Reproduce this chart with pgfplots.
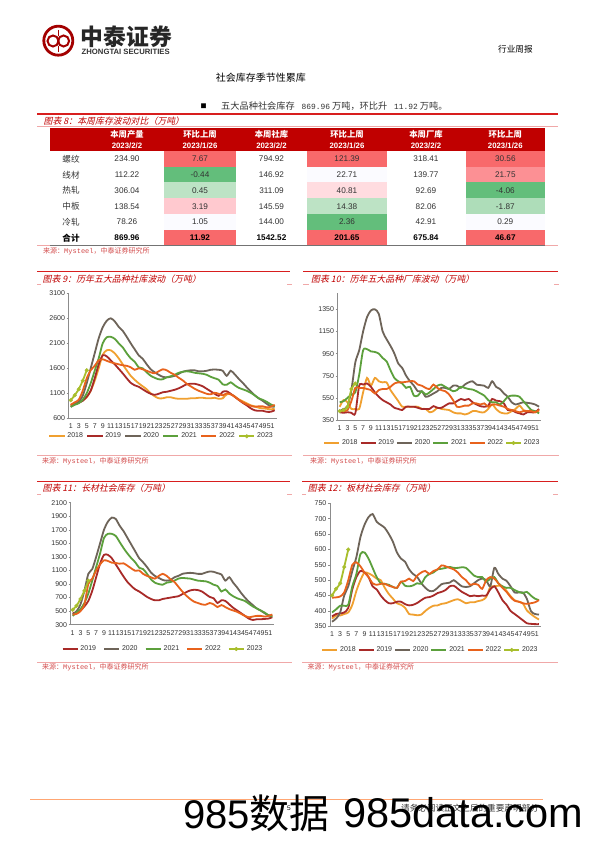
\documentclass[border=0pt]{standalone}
\usepackage{pgfplots}
\pgfplotsset{compat=1.18}
\usepackage{fontspec}
\setmainfont{Liberation Sans}
\newfontfamily\cjk{Noto Sans CJK SC}
\newfontfamily\cjkit[FakeSlant=0.22]{Noto Sans CJK SC}
\newfontfamily\monof{Liberation Mono}
\definecolor{y18}{HTML}{F0A030}
\definecolor{y19}{HTML}{A82A28}
\definecolor{y20}{HTML}{6E6459}
\definecolor{y21}{HTML}{5CA03C}
\definecolor{y22}{HTML}{E8621C}
\definecolor{y23}{HTML}{A8BE2C}
\definecolor{hd}{HTML}{C00000}
\definecolor{rulered}{HTML}{D81E1E}
\definecolor{pk}{HTML}{F0A8A8}
\definecolor{ca}{HTML}{F8696B}
\definecolor{cb}{HTML}{FC9094}
\definecolor{cc}{HTML}{FFC9CF}
\definecolor{cd}{HTML}{FFDCE0}
\definecolor{ce}{HTML}{FBFBFF}
\definecolor{cf}{HTML}{BDE3C5}
\definecolor{cg}{HTML}{AEDDB9}
\definecolor{ch}{HTML}{63BE7B}
\definecolor{ink}{HTML}{333333}
\newcommand{\fs}[1]{\fontsize{#1}{#1}\selectfont}
\newcommand{\PT}[2]{(#1,{842-#2})}
\newcommand{\RL}[3]{\fill[fill=rulered,draw=none] (#1,{842-#3-0.8}) rectangle (#2,{842-#3+0.8});}
\pgfplotsset{
  rep/.style={
    scale only axis, clip=false,
    axis x line=bottom, axis y line=left,
    axis line style={draw=black!45,-,line width=0.5pt},
    xmin=0.5, xmax=52.5,
    xtick={1,3,...,51},
    x tick style={draw=none},
    y tick style={draw=black!45,line width=0.4pt},
    tick align=outside, major tick length=2pt,
    xticklabel style={font=\fs{7},text=ink,inner sep=1pt,yshift=-2.5pt},
    yticklabel style={font=\fs{7},text=ink,inner sep=1.5pt},
    /pgf/number format/assume math mode=true,
    /pgf/number format/1000 sep={},
    xtick pos=bottom, ytick pos=left,
    legend columns=-1,
    legend cell align=left,
    legend style={draw=none,fill=none,font=\fs{7},text=ink,inner sep=0pt},
    legend image code/.code={\draw[mark repeat=2,mark phase=2,##1] plot coordinates {(0pt,0pt)(7.5pt,0pt)(15pt,0pt)};},
  },
  base/.style={line width=1.8pt,smooth,tension=0.45,no markers},
  s18/.style={base,color=y18},s19/.style={base,color=y19},s20/.style={base,color=y20},
  s21/.style={base,color=y21},s22/.style={base,color=y22},
  s23/.style={line width=1.8pt,smooth,tension=0.45,color=y23,mark=*,mark size=1.9pt,mark options={fill=y23,draw=y23,line width=0.3pt}},
  cs/.style={legend style={/tikz/every even column/.append style={column sep=#1}}},
}
\begin{document}
\begin{tikzpicture}[x=1pt,y=1pt]
\useasboundingbox (0,0) rectangle (596,842);
\fill[white] (0,0) rectangle (596,842);

% red rules
\RL{37}{558}{114}
\RL{37}{290}{271.7}
\RL{303}{558}{271.7}
\RL{37}{290}{481.7}
\RL{302}{558}{481.7}

% logo
\draw[color=hd!85!black,line width=2.8pt] \PT{58.3}{40.7} circle (14.5);
\draw[color=hd!85!black,line width=2pt] \PT{53}{41} circle (5.5);
\draw[color=hd!85!black,line width=2pt] \PT{63.6}{41} circle (5.5);
\draw[color=hd!85!black,line width=1.6pt] \PT{58.3}{30} -- \PT{58.3}{36};
\draw[color=hd!85!black,line width=1.6pt] \PT{58.3}{46} -- \PT{58.3}{52};
\node[anchor=west,inner sep=0] at \PT{80.5}{36.5} {\cjk\bfseries\fs{22.8}\color{black!85}中泰证券};
\node[anchor=west,inner sep=0] at \PT{81.5}{51.7} {\bfseries\fs{7.7}\color{black!80}ZHONGTAI SECURITIES};
\node[anchor=west,inner sep=0] at \PT{498}{49} {\cjk\fs{8.6}行业周报};
\node[anchor=west,inner sep=0] at \PT{215.7}{78} {\cjk\fs{10}社会库存季节性累库};
\node[anchor=center,inner sep=0] at \PT{203.5}{106} {\cjk\fs{6}■};
\node[anchor=west,inner sep=0] at \PT{221}{106} {\cjk\fs{9.2}\color{black!80}五大品种社会库存 {\monof\fs{7.9} 869.96} 万吨，环比升 {\monof\fs{7.9} 11.92} 万吨。};

% table heading
\node[anchor=west,inner sep=0,text=hd] at \PT{43.5}{120.7} {\cjkit\fs{8.9}图表 8：本周库存波动对比（万吨）};
\draw[color=pk,line width=0.6pt] \PT{37}{126.7} -- \PT{558}{126.7};

% table cells
\fill[hd] \PT{50}{128} rectangle \PT{545}{151};
\foreach \cx/\a/\b in {127/本周产量/2023\slash 2\slash 2,200/环比上周/2023\slash 1\slash 26,271.5/本周社库/2023\slash 2\slash 2,347/环比上周/2023\slash 1\slash 26,426/本周厂库/2023\slash 2\slash 2,505.3/环比上周/2023\slash 1\slash 26}{
  \node[text=white,inner sep=0] at \PT{\cx}{134} {\cjk\bfseries\fs{8.3}\a};
  \node[text=white,inner sep=0] at \PT{\cx}{145.5} {\bfseries\fs{7.8}\b};
}
\foreach \row/\nm/\va/\vb/\cb/\vc/\vd/\cd/\ve/\vf/\cf in {
 0/螺纹/234.90/7.67/ca/794.92/121.39/ca/318.41/30.56/ca,
 1/线材/112.22/-0.44/ch/146.92/22.71/ce/139.77/21.75/cb,
 2/热轧/306.04/0.45/cf/311.09/40.81/cd/92.69/-4.06/ch,
 3/中板/138.54/3.19/cc/145.59/14.38/cf/82.06/-1.87/cg,
 4/冷轧/78.26/1.05/ce/144.00/2.36/ch/42.91/0.29/ce}{
  \pgfmathsetmacro\yt{151+15.75*\row}
  \pgfmathsetmacro\yb{\yt+15.75}
  \pgfmathsetmacro\ym{\yt+8}
  \fill[\cb] \PT{164.3}{\yt} rectangle \PT{235.7}{\yb};
  \fill[\cd] \PT{307.3}{\yt} rectangle \PT{386.7}{\yb};
  \fill[\cf] \PT{465.7}{\yt} rectangle \PT{545}{\yb};
  \node[inner sep=0,text=ink] at \PT{71}{\ym} {\cjk\fs{8.6}\nm};
  \node[inner sep=0,text=ink] at \PT{127}{\ym} {\fs{8.2}\va};
  \node[inner sep=0,text=ink] at \PT{200}{\ym} {\fs{8.2}\vb};
  \node[inner sep=0,text=ink] at \PT{271.5}{\ym} {\fs{8.2}\vc};
  \node[inner sep=0,text=ink] at \PT{347}{\ym} {\fs{8.2}\vd};
  \node[inner sep=0,text=ink] at \PT{426}{\ym} {\fs{8.2}\ve};
  \node[inner sep=0,text=ink] at \PT{505.3}{\ym} {\fs{8.2}\vf};
}
\fill[ca] \PT{164.3}{229.7} rectangle \PT{235.7}{245.5};
\fill[ca] \PT{307.3}{229.7} rectangle \PT{386.7}{245.5};
\fill[ca] \PT{465.7}{229.7} rectangle \PT{545}{245.5};
\node[inner sep=0] at \PT{71}{238} {\cjk\bfseries\fs{8.6}合计};
\foreach \cx/\v in {127/869.96,200/11.92,271.5/1542.52,347/201.65,426/675.84,505.3/46.67}{
  \node[inner sep=0] at \PT{\cx}{238} {\bfseries\fs{8.2}\v};
}
\draw[color=pk,line width=0.6pt] \PT{37}{245.7} -- \PT{558}{245.7};
\draw[color=black!55,line width=0.6pt] \PT{50}{245.7} -- \PT{545}{245.7};
\node[anchor=west,inner sep=0,text=hd!70] at \PT{43}{251.5} {\cjk\fs{7}来源：{\monof\fs{7}Mysteel}，中泰证券研究所};

% chart 9 frame
\draw[color=pk,line width=0.6pt] \PT{37}{284} -- \PT{41}{284} \PT{287}{284} -- \PT{292}{284};
\node[anchor=west,inner sep=0,text=hd] at \PT{42.5}{278.7} {\cjkit\fs{8.9}图表 9：历年五大品种社库波动（万吨）};
\draw[color=pk,line width=0.6pt] \PT{37}{455.7} -- \PT{292}{455.7};
\node[anchor=west,inner sep=0,text=hd!70] at \PT{42}{461} {\cjk\fs{7}来源：{\monof\fs{7}Mysteel}，中泰证券研究所};
% chart 10 frame
\draw[color=pk,line width=0.6pt] \PT{303}{284} -- \PT{309}{284} \PT{554}{284} -- \PT{559}{284};
\node[anchor=west,inner sep=0,text=hd] at \PT{311}{278.7} {\cjkit\fs{8.9}图表 10：历年五大品种厂库波动（万吨）};
\draw[color=pk,line width=0.6pt] \PT{303}{455.7} -- \PT{559}{455.7};
\node[anchor=west,inner sep=0,text=hd!70] at \PT{310}{461} {\cjk\fs{7}来源：{\monof\fs{7}Mysteel}，中泰证券研究所};
% chart 11 frame
\draw[color=pk,line width=0.6pt] \PT{37}{494} -- \PT{41}{494} \PT{287}{494} -- \PT{292}{494};
\node[anchor=west,inner sep=0,text=hd] at \PT{42.5}{488.5} {\cjkit\fs{8.9}图表 11：长材社会库存（万吨）};
\draw[color=pk,line width=0.6pt] \PT{37}{662} -- \PT{292}{662};
\node[anchor=west,inner sep=0,text=hd!70] at \PT{42}{667.5} {\cjk\fs{7}来源：{\monof\fs{7}Mysteel}，中泰证券研究所};
% chart 12 frame
\draw[color=pk,line width=0.6pt] \PT{302}{494} -- \PT{306}{494} \PT{553}{494} -- \PT{558}{494};
\node[anchor=west,inner sep=0,text=hd] at \PT{307.7}{488.5} {\cjkit\fs{8.9}图表 12：板材社会库存（万吨）};
\draw[color=pk,line width=0.6pt] \PT{302}{662} -- \PT{558}{662};
\node[anchor=west,inner sep=0,text=hd!70] at \PT{307.5}{667.5} {\cjk\fs{7}来源：{\monof\fs{7}Mysteel}，中泰证券研究所};

% ---------- chart 9
\begin{axis}[rep,cs=1.6pt,at={(68.7pt,423.7pt)},anchor=south west,width=208pt,height=125pt,
  ymin=600,ymax=3100,ytick={600,1100,1600,2100,2600,3100},
  legend style={at={(0.5,0)},anchor=center,yshift=-18pt,xshift=-11pt}]
\addplot[s18] coordinates {(1,850)(2,880)(3,920)(4,960)(5,1020)(6,1150)(7,1350)(8,1600)(9,1870)(10,1960)(11,1960)(12,1900)(13,1800)(14,1680)(15,1560)(16,1450)(17,1370)(18,1300)(19,1240)(20,1180)(21,1100)(22,1040)(23,1000)(24,1000)(25,1020)(26,1020)(27,1000)(28,990)(29,990)(30,990)(31,1000)(32,1000)(33,1010)(34,1010)(35,1000)(36,1000)(37,1010)(38,990)(39,1000)(40,1080)(41,1080)(42,1040)(43,980)(44,940)(45,900)(46,860)(47,840)(48,810)(49,800)(50,790)(51,780)(52,790)};
\addplot[s19] coordinates {(1,870)(2,880)(3,910)(4,950)(5,1030)(6,1150)(7,1400)(8,1680)(9,1860)(10,1840)(11,1760)(12,1680)(13,1590)(14,1500)(15,1400)(16,1310)(17,1260)(18,1230)(19,1180)(20,1130)(21,1090)(22,1070)(23,1090)(24,1120)(25,1130)(26,1150)(27,1170)(28,1200)(29,1240)(30,1280)(31,1290)(32,1290)(33,1270)(34,1240)(35,1190)(36,1140)(37,1090)(38,1050)(39,1130)(40,1140)(41,1090)(42,1030)(43,970)(44,910)(45,860)(46,800)(47,760)(48,750)(49,750)(50,730)(51,730)(52,760)};
\addplot[s20] coordinates {(1,830)(2,880)(3,930)(4,1050)(5,1300)(6,1600)(7,1900)(8,2200)(9,2420)(10,2550)(11,2600)(12,2540)(13,2430)(14,2350)(15,2230)(16,2100)(17,1980)(18,1860)(19,1790)(20,1680)(21,1580)(22,1520)(23,1470)(24,1430)(25,1420)(26,1430)(27,1450)(28,1490)(29,1530)(30,1550)(31,1560)(32,1560)(33,1540)(34,1540)(35,1550)(36,1570)(37,1575)(38,1570)(39,1550)(40,1450)(41,1550)(42,1480)(43,1390)(44,1310)(45,1220)(46,1140)(47,1060)(48,1000)(49,950)(50,890)(51,840)(52,830)};
\addplot[s21] coordinates {(1,830)(2,870)(3,900)(4,970)(5,1100)(6,1300)(7,1550)(8,1800)(9,2100)(10,2220)(11,2230)(12,2190)(13,2100)(14,2020)(15,1900)(16,1800)(17,1730)(18,1620)(19,1600)(20,1520)(21,1450)(22,1410)(23,1380)(24,1380)(25,1420)(26,1440)(27,1470)(28,1510)(29,1530)(30,1540)(31,1530)(32,1510)(33,1500)(34,1490)(35,1470)(36,1430)(37,1400)(38,1370)(39,1280)(40,1270)(41,1320)(42,1260)(43,1210)(44,1180)(45,1150)(46,1110)(47,1060)(48,1000)(49,970)(50,930)(51,880)(52,840)};
\addplot[s22] coordinates {(1,870)(2,920)(3,970)(4,1150)(5,1400)(6,1560)(7,1650)(8,1760)(9,1780)(10,1750)(11,1720)(12,1700)(13,1680)(14,1660)(15,1650)(16,1620)(17,1570)(18,1600)(19,1580)(20,1550)(21,1520)(22,1500)(23,1540)(24,1580)(25,1560)(26,1510)(27,1470)(28,1410)(29,1360)(30,1290)(31,1240)(32,1190)(33,1150)(34,1120)(35,1090)(36,1080)(37,1110)(38,1090)(39,1060)(40,1100)(41,1080)(42,1030)(43,970)(44,920)(45,880)(46,850)(47,830)(48,840)(49,840)(50,820)(51,830)(52,870)};
\addplot[s23] coordinates {(1,960)(2,1060)(3,1180)(4,1350)(5,1560)};
\legend{2018,2019,2020,2021,2022,2023}
\end{axis}

% ---------- chart 10
\begin{axis}[rep,cs=0pt,at={(337.7pt,422pt)},anchor=south west,width=203.3pt,height=126.7pt,
  ymin=350,ymax=1495,ytick={350,550,750,950,1150,1350},
  legend style={at={(0.5,0)},anchor=center,yshift=-23pt,xshift=-7pt}]
\addplot[s18] coordinates {(1,470)(2,530)(3,510)(4,450)(5,450)(6,450)(7,600)(8,730)(9,660)(10,730)(11,700)(12,690)(13,690)(14,620)(15,570)(16,520)(17,470)(18,470)(19,470)(20,470)(21,470)(22,450)(23,450)(24,420)(25,430)(26,460)(27,450)(28,445)(29,440)(30,420)(31,410)(32,410)(33,400)(34,410)(35,430)(36,430)(37,420)(38,420)(39,450)(40,490)(41,450)(42,420)(43,410)(44,410)(45,430)(46,450)(47,480)(48,440)(49,430)(50,420)(51,420)(52,430)};
\addplot[s19] coordinates {(1,420)(2,415)(3,420)(4,415)(5,410)(6,660)(7,670)(8,680)(9,650)(10,600)(11,560)(12,530)(13,510)(14,490)(15,460)(16,450)(17,440)(18,470)(19,470)(20,470)(21,460)(22,450)(23,450)(24,450)(25,475)(26,460)(27,460)(28,480)(29,500)(30,500)(31,520)(32,540)(33,530)(34,540)(35,510)(36,490)(37,475)(38,470)(39,480)(40,540)(41,525)(42,520)(43,500)(44,440)(45,440)(46,420)(47,410)(48,400)(49,420)(50,420)(51,420)(52,450)};
\addplot[s20] coordinates {(1,430)(2,450)(3,470)(4,620)(5,870)(6,980)(7,1150)(8,1280)(9,1340)(10,1350)(11,1310)(12,1150)(13,1080)(14,1020)(15,950)(16,860)(17,820)(18,750)(19,700)(20,660)(21,610)(22,610)(23,560)(24,570)(25,590)(26,610)(27,640)(28,640)(29,630)(30,660)(31,660)(32,640)(33,670)(34,690)(35,700)(36,670)(37,665)(38,660)(39,640)(40,700)(41,650)(42,630)(43,590)(44,560)(45,510)(46,490)(47,500)(48,510)(49,505)(50,500)(51,490)(52,470)};
\addplot[s21] coordinates {(1,510)(2,520)(3,550)(4,580)(5,600)(6,760)(7,980)(8,990)(9,970)(10,965)(11,950)(12,910)(13,880)(14,800)(15,730)(16,700)(17,680)(18,640)(19,650)(20,570)(21,570)(22,610)(23,580)(24,600)(25,630)(26,660)(27,670)(28,650)(29,630)(30,610)(31,620)(32,650)(33,640)(34,630)(35,625)(36,610)(37,590)(38,570)(39,530)(40,510)(41,510)(42,490)(43,520)(44,560)(45,570)(46,570)(47,560)(48,520)(49,480)(50,440)(51,430)(52,410)};
\addplot[s22] coordinates {(1,430)(2,430)(3,440)(4,520)(5,640)(6,640)(7,640)(8,630)(9,620)(10,590)(11,620)(12,630)(13,630)(14,650)(15,680)(16,690)(17,690)(18,695)(19,700)(20,700)(21,670)(22,660)(23,640)(24,630)(25,670)(26,640)(27,620)(28,610)(29,580)(30,530)(31,470)(32,470)(33,480)(34,480)(35,500)(36,500)(37,490)(38,500)(39,470)(40,490)(41,490)(42,480)(43,470)(44,450)(45,440)(46,430)(47,420)(48,430)(49,430)(50,430)(51,420)(52,440)};
\addplot[s23] coordinates {(1,430)(2,440)(3,470)(4,630)(5,680)};
\legend{2018,2019,2020,2021,2022,2023}
\end{axis}

% ---------- chart 11
\begin{axis}[rep,cs=5.2pt,at={(70.7pt,217.3pt)},anchor=south west,width=203.6pt,height=122pt,
  ymin=300,ymax=2100,ytick={300,500,...,2100},
  legend style={at={(0.5,0)},anchor=center,yshift=-24.3pt,xshift=-9.5pt}]
\addplot[s19] coordinates {(1,470)(2,480)(3,510)(4,570)(5,650)(6,800)(7,1000)(8,1200)(9,1330)(10,1330)(11,1280)(12,1190)(13,1100)(14,1010)(15,930)(16,870)(17,820)(18,790)(19,750)(20,710)(21,680)(22,660)(23,660)(24,680)(25,690)(26,700)(27,710)(28,720)(29,750)(30,780)(31,805)(32,815)(33,810)(34,790)(35,750)(36,710)(37,690)(38,620)(39,660)(40,650)(41,600)(42,550)(43,510)(44,470)(45,430)(46,390)(47,370)(48,380)(49,380)(50,385)(51,390)(52,410)};
\addplot[s20] coordinates {(1,450)(2,500)(3,600)(4,800)(5,1050)(6,1120)(7,1300)(8,1500)(9,1700)(10,1820)(11,1880)(12,1860)(13,1760)(14,1680)(15,1580)(16,1480)(17,1380)(18,1280)(19,1220)(20,1150)(21,1070)(22,1020)(23,990)(24,960)(25,950)(26,960)(27,1000)(28,1020)(29,1050)(30,1060)(31,1065)(32,1060)(33,1050)(34,1050)(35,1070)(36,1085)(37,1080)(38,1060)(39,1040)(40,950)(41,1000)(42,920)(43,850)(44,770)(45,700)(46,640)(47,590)(48,540)(49,510)(50,470)(51,440)(52,430)};
\addplot[s21] coordinates {(1,430)(2,480)(3,530)(4,620)(5,760)(6,950)(7,1150)(8,1350)(9,1580)(10,1640)(11,1640)(12,1610)(13,1520)(14,1430)(15,1350)(16,1280)(17,1220)(18,1140)(19,1120)(20,1050)(21,970)(22,920)(23,900)(24,890)(25,920)(26,930)(27,950)(28,980)(29,990)(30,985)(31,980)(32,965)(33,950)(34,945)(35,940)(36,920)(37,890)(38,870)(39,790)(40,820)(41,760)(42,720)(43,690)(44,670)(45,650)(46,610)(47,570)(48,540)(49,510)(50,480)(51,440)(52,420)};
\addplot[s22] coordinates {(1,450)(2,460)(3,500)(4,600)(5,900)(6,980)(7,1100)(8,1190)(9,1250)(10,1240)(11,1215)(12,1210)(13,1200)(14,1205)(15,1170)(16,1130)(17,1095)(18,1100)(19,1050)(20,1020)(21,1000)(22,980)(23,1020)(24,1050)(25,1020)(26,970)(27,930)(28,860)(29,790)(30,730)(31,680)(32,640)(33,620)(34,600)(35,595)(36,620)(37,600)(38,560)(39,590)(40,560)(41,530)(42,510)(43,490)(44,460)(45,430)(46,410)(47,420)(48,430)(49,430)(50,420)(51,430)(52,450)};
\addplot[s23] coordinates {(1,520)(2,580)(3,680)(4,800)(5,950)};
\legend{2019,2020,2021,2022,2023}
\end{axis}

% ---------- chart 12
\begin{axis}[rep,cs=0pt,at={(330pt,215.7pt)},anchor=south west,width=211pt,height=123pt,
  ymin=350,ymax=750,ytick={350,400,...,750},
  legend style={at={(0.5,0)},anchor=center,yshift=-23.7pt,xshift=-5pt}]
\addplot[s18] coordinates {(1,375)(2,385)(3,385)(4,390)(5,395)(6,420)(7,465)(8,500)(9,525)(10,522)(11,515)(12,505)(13,500)(14,475)(15,455)(16,440)(17,425)(18,420)(19,410)(20,390)(21,388)(22,386)(23,388)(24,400)(25,410)(26,417)(27,418)(28,423)(29,425)(30,430)(31,435)(32,438)(33,432)(34,425)(35,428)(36,428)(37,432)(38,435)(39,445)(40,478)(41,480)(42,482)(43,480)(44,465)(45,448)(46,435)(47,430)(48,425)(49,402)(50,390)(51,380)(52,372)};
\addplot[s19] coordinates {(1,382)(2,390)(3,392)(4,395)(5,410)(6,470)(7,510)(8,530)(9,525)(10,510)(11,480)(12,470)(13,450)(14,435)(15,425)(16,425)(17,430)(18,430)(19,422)(20,418)(21,420)(22,426)(23,435)(24,443)(25,445)(26,450)(27,458)(28,462)(29,468)(30,480)(31,482)(32,472)(33,462)(34,455)(35,448)(36,450)(37,448)(38,450)(39,450)(40,470)(41,480)(42,460)(43,435)(44,420)(45,400)(46,390)(47,380)(48,370)(49,360)(50,358)(51,357)(52,357)};
\addplot[s20] coordinates {(1,365)(2,375)(3,395)(4,450)(5,480)(6,530)(7,575)(8,640)(9,680)(10,705)(11,715)(12,690)(13,680)(14,670)(15,650)(16,625)(17,590)(18,570)(19,560)(20,535)(21,520)(22,510)(23,490)(24,475)(25,465)(26,465)(27,475)(28,487)(29,490)(30,492)(31,500)(32,490)(33,480)(34,478)(35,480)(36,490)(37,500)(38,505)(39,500)(40,480)(41,540)(42,520)(43,505)(44,498)(45,480)(46,460)(47,460)(48,460)(49,440)(50,400)(51,390)(52,388)};
\addplot[s21] coordinates {(1,395)(2,405)(3,417)(4,417)(5,420)(6,480)(7,520)(8,585)(9,590)(10,570)(11,540)(12,510)(13,490)(14,488)(15,485)(16,478)(17,475)(18,495)(19,482)(20,480)(21,483)(22,490)(23,488)(24,510)(25,520)(26,525)(27,535)(28,537)(29,540)(30,543)(31,540)(32,540)(33,542)(34,540)(35,528)(36,515)(37,510)(38,510)(39,495)(40,505)(41,510)(42,490)(43,480)(44,475)(45,475)(46,468)(47,462)(48,458)(49,462)(50,450)(51,440)(52,435)};
\addplot[s22] coordinates {(1,443)(2,444)(3,447)(4,460)(5,500)(6,550)(7,558)(8,545)(9,525)(10,510)(11,490)(12,485)(13,488)(14,488)(15,482)(16,478)(17,475)(18,495)(19,497)(20,505)(21,497)(22,515)(23,525)(24,530)(25,520)(26,530)(27,535)(28,548)(29,545)(30,540)(31,535)(32,525)(33,510)(34,500)(35,485)(36,488)(37,485)(38,472)(39,500)(40,510)(41,505)(42,490)(43,475)(44,462)(45,445)(46,433)(47,430)(48,425)(49,423)(50,425)(51,428)(52,435)};
\addplot[s23] coordinates {(1,450)(2,472)(3,490)(4,543)(5,600)};
\legend{2018,2019,2020,2021,2022,2023}
\end{axis}

% footer
\draw[color=orange!40!pink,line width=0.6pt] \PT{30}{799} -- \PT{543}{799};
\node[inner sep=0] at \PT{289}{808} {\fs{6.5}5};
\node[anchor=west,inner sep=0] at \PT{401}{808} {\cjk\fs{8.6}\color{black!80}请务必阅读正文之后的重要声明部分};
\node[anchor=west,inner sep=0] at \PT{183}{813} {\fs{40}985\cjk 数据};
\node[anchor=west,inner sep=0] at \PT{343}{813} {\fs{41.5}985data.com};
\end{tikzpicture}
\end{document}
